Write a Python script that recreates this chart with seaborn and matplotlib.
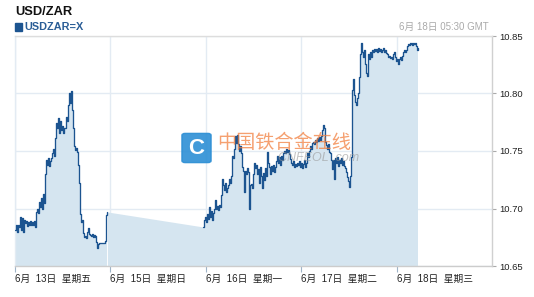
import numpy as np
import pandas as pd
import matplotlib
matplotlib.use("Agg")
import matplotlib.pyplot as plt
from matplotlib.patches import FancyBboxPatch
import seaborn as sns

# ---------------- data ----------------
title = "USD/ZAR"
series_name = "USDZAR=X"
timestamp = "6月 18日 05:30 GMT"
tick_hours = [0, 24, 48, 72, 96]
tick_labels = ["6月  13日  星期五", "6月  15日  星期日", "6月  16日  星期一", "6月  17日  星期二", "6月  18日  星期三"]
y_ticks = [10.65, 10.70, 10.75, 10.80, 10.85]

bar_hours = 0.25            # 15-minute bars
fri_start = 0.0             # hours from 6/13 00:00
mon_start = 47.25

fri_rates = [
    10.681, 10.686, 10.680, 10.686, 10.684, 10.693, 10.681, 10.692, 10.680, 10.690,
    10.687, 10.689, 10.685, 10.688, 10.686, 10.689, 10.686, 10.688, 10.686, 10.689,
    10.684, 10.697, 10.700, 10.696, 10.706, 10.701, 10.709, 10.700, 10.713, 10.705,
    10.730, 10.742, 10.738, 10.744, 10.737, 10.741, 10.744, 10.748, 10.752, 10.746,
    10.761, 10.774, 10.770, 10.779, 10.766, 10.776, 10.768, 10.772, 10.766, 10.770,
    10.770, 10.780, 10.776, 10.790, 10.800, 10.792, 10.802, 10.786, 10.770, 10.754,
    10.751, 10.753, 10.749, 10.738, 10.722, 10.695, 10.688, 10.690, 10.679, 10.675,
    10.676, 10.674, 10.680, 10.683, 10.678, 10.677, 10.676, 10.678, 10.675, 10.677,
    10.675, 10.676, 10.671, 10.666, 10.669, 10.670, 10.670, 10.670, 10.670, 10.670,
    10.670, 10.672, 10.694, 10.697,
]

mon_rates = [
    10.684, 10.690, 10.693, 10.688, 10.695, 10.691, 10.701, 10.693, 10.698, 10.690,
    10.696, 10.700, 10.707, 10.700, 10.702, 10.699, 10.703, 10.701, 10.712, 10.726,
    10.720, 10.716, 10.722, 10.714, 10.718, 10.720, 10.726, 10.722, 10.728, 10.746,
    10.744, 10.752, 10.763, 10.757, 10.764, 10.756, 10.750, 10.754, 10.748, 10.736,
    10.733, 10.714, 10.733, 10.730, 10.735, 10.732, 10.700, 10.720, 10.721, 10.718,
    10.722, 10.730, 10.740, 10.735, 10.738, 10.730, 10.734, 10.722, 10.736, 10.728,
    10.718, 10.731, 10.725, 10.735, 10.728, 10.749, 10.740, 10.736, 10.730, 10.737,
    10.733, 10.738, 10.732, 10.736, 10.741, 10.746, 10.740, 10.745, 10.738, 10.746,
    10.742, 10.748, 10.750, 10.748, 10.752, 10.749, 10.751, 10.747, 10.743, 10.740,
    10.738, 10.741, 10.736, 10.739, 10.737, 10.740, 10.738, 10.741, 10.736, 10.740,
    10.735, 10.739, 10.742, 10.736, 10.740, 10.748, 10.745, 10.750, 10.754, 10.752,
    10.757, 10.758, 10.756, 10.760, 10.758, 10.761, 10.759, 10.762, 10.760, 10.763,
    10.768, 10.773, 10.770, 10.758, 10.755, 10.752, 10.756, 10.749, 10.748, 10.742,
    10.734, 10.742, 10.726, 10.744, 10.740, 10.745, 10.737, 10.742, 10.740, 10.744,
    10.738, 10.741, 10.737, 10.735, 10.732, 10.727, 10.724, 10.719, 10.728, 10.745,
    10.803, 10.813, 10.799, 10.793, 10.790, 10.796, 10.800, 10.814, 10.834, 10.844,
    10.836, 10.832, 10.838, 10.826, 10.818, 10.815, 10.834, 10.830, 10.836, 10.832,
    10.838, 10.836, 10.839, 10.837, 10.839, 10.836, 10.840, 10.837, 10.839, 10.836,
    10.838, 10.840, 10.836, 10.838, 10.835, 10.834, 10.832, 10.833, 10.831, 10.832,
    10.830, 10.834, 10.836, 10.832, 10.828, 10.830, 10.826, 10.830, 10.832, 10.829,
    10.833, 10.836, 10.838, 10.836, 10.838, 10.841, 10.843, 10.842, 10.844, 10.843,
    10.844, 10.842, 10.844, 10.843, 10.844, 10.841, 10.838, 10.840,
]

# ---------------- build frame ----------------
fri_hours = fri_start + bar_hours * np.arange(len(fri_rates))
mon_hours = mon_start + bar_hours * np.arange(len(mon_rates))
df = pd.concat([
    pd.DataFrame({"hour": fri_hours, "rate": fri_rates, "seg": "fri"}),
    pd.DataFrame({"hour": mon_hours, "rate": mon_rates, "seg": "mon"}),
], ignore_index=True)

LINE = "#1c5490"
FILL = "#d5e5f0"
GRID = "#e3ebf3"

sns.set_theme(style="white")
plt.rcParams["font.family"] = ["Liberation Sans", "Noto Sans CJK SC", "DejaVu Sans"]

fig = plt.figure(figsize=(5.34, 2.97), dpi=100)
ax = fig.add_axes([15 / 534, 31 / 297, 477 / 534, 230 / 297])

ymin = y_ticks[0]
for seg, g in df.groupby("seg"):
    ax.fill_between(g["hour"], g["rate"], ymin, step="post", color=FILL, lw=0, zorder=1)
# weekend (no trading): fill bridges the gap, no line
ax.fill_between([fri_hours[-1], mon_hours[0]], [fri_rates[-1], mon_rates[0]], ymin,
                color=FILL, lw=0, zorder=1)

sns.lineplot(data=df, x="hour", y="rate", units="seg", estimator=None, sort=False,
             color=LINE, lw=0.95, drawstyle="steps-post", ax=ax, zorder=3, legend=False)

ax.set_xlim(0, 120)
ax.set_ylim(y_ticks[0], y_ticks[-1])
ax.set_xticks(tick_hours)
ax.set_xticklabels(tick_labels, ha="left", fontsize=7, color="#222222")
ax.set_yticks(y_ticks)
ax.set_yticklabels([f"{v:.2f}" for v in y_ticks], fontsize=6.8, color="#222222")
ax.yaxis.tick_right()
ax.tick_params(axis="y", length=3, width=0.8, color="#aaaaaa", pad=2, right=True, left=False)
ax.tick_params(axis="x", length=4, width=0.8, color="#9fb4c8", pad=2, bottom=True)
ax.set_xlabel("")
ax.set_ylabel("")

ax.grid(True, color=GRID, lw=1.0, zorder=0)
ax.set_axisbelow(True)
for side, col in [("top", "#dddddd"), ("right", "#d0d0d0"), ("bottom", "#cccccc"), ("left", GRID)]:
    ax.spines[side].set_visible(True)
    ax.spines[side].set_color(col)
    ax.spines[side].set_linewidth(1.0)

# header texts
fig.text(15 / 534, 1 - 12 / 297, title, fontsize=9.3, fontweight="bold", color="#111111",
         ha="left", va="center")
fig.patches.append(FancyBboxPatch((15 / 534, 1 - 31 / 297), 7 / 534, 8 / 297, boxstyle="square,pad=0",
                                  transform=fig.transFigure, color="#1c5490", figure=fig))
fig.text(24 / 534, 1 - 27 / 297, series_name, fontsize=7.8, fontweight="bold", color="#2a5d96",
         ha="left", va="center")
fig.text(489 / 534, 1 - 27 / 297, timestamp, fontsize=7, color="#aaaaaa", ha="right", va="center")

# watermark
fig.patches.append(FancyBboxPatch((183 / 534, 1 - 162 / 297), 27 / 534, 28 / 297,
                                  boxstyle="round,pad=0.002,rounding_size=0.006",
                                  transform=fig.transFigure, color="#2d8fd5", alpha=0.9, figure=fig,
                                  zorder=5))
fig.text(196.5 / 534, 1 - 148 / 297, "C", fontsize=16, fontweight="bold", color="white",
         ha="center", va="center", zorder=6)
fig.text(217 / 534, 1 - 142 / 297, "中国铁合金在线", fontsize=13.8, color="#f28040", alpha=0.75,
         ha="left", va="center", family=["Noto Sans CJK SC"], zorder=6)
fig.text(278 / 534, 1 - 158 / 297, "CNFEOL .com", fontsize=9, style="italic", color="#999999",
         alpha=0.6, ha="left", va="center", zorder=6)

fig.savefig("out.png", dpi=100)
